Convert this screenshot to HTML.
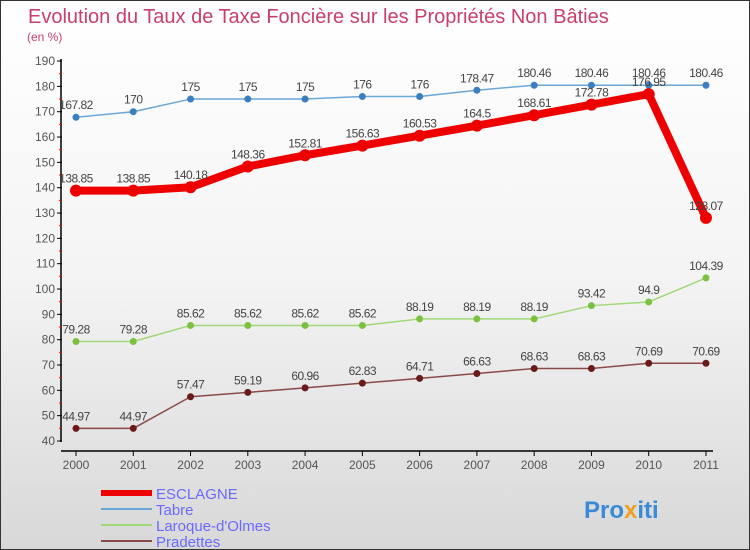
<!DOCTYPE html>
<html><head><meta charset="utf-8"><style>
body{margin:0}
#c{width:748px;height:548px;border:1px solid #333;background:linear-gradient(#fff 0%,#f4f4f4 50%,#d8d8d8 100%);position:relative;font-family:"Liberation Sans",sans-serif;overflow:hidden}
</style></head><body>
<div id="c">
<svg id="s" width="748" height="548" xmlns="http://www.w3.org/2000/svg"></svg>
</div>
<script>
const years=[2000,2001,2002,2003,2004,2005,2006,2007,2008,2009,2010,2011];
const esclagne=[138.85,138.85,140.18,148.36,152.81,156.63,160.53,164.5,168.61,172.78,176.95,128.07];
const tabre=[167.82,170,175,175,175,176,176,178.47,180.46,180.46,180.46,180.46];
const laroque=[79.28,79.28,85.62,85.62,85.62,85.62,88.19,88.19,88.19,93.42,94.9,104.39];
const pradettes=[44.97,44.97,57.47,59.19,60.96,62.83,64.71,66.63,68.63,68.63,70.69,70.69];
const yTicks=[40,50,60,70,80,90,100,110,120,130,140,150,160,170,180,190];
const NS="http://www.w3.org/2000/svg";
const s=document.getElementById('s');
function X(i){return 75+i*57.27;}
function Y(v){return 440-(v-40)*2.533;}
function el(t,a,txt){const e=document.createElementNS(NS,t);for(const k in a)e.setAttribute(k,a[k]);if(txt!==undefined)e.textContent=txt;s.appendChild(e);return e;}
let t=el('text',{x:27,y:22,'font-size':20,fill:'#c8406a'},'Evolution du Taux de Taxe Foncière sur les Propriétés Non Bâties');


t=el('text',{x:26,y:40,'font-size':12,fill:'#c8406a'},'(en %)');


let ax=el('line',{x1:60,y1:58,x2:60,y2:441,stroke:'#000','stroke-width':1.5});


ax=el('line',{x1:60,y1:450,x2:712,y2:450,stroke:'#000','stroke-width':1.5});


yTicks.forEach(v=>{
 el('line',{x1:56,y1:Y(v),x2:61,y2:Y(v),stroke:'#000'});
 if(v<190)el('line',{x1:58,y1:Y(v+5),x2:61,y2:Y(v+5),stroke:'red'});
 const l=el('text',{x:54,y:Y(v)+4,'font-size':12,fill:'#555','text-anchor':'end'},v);
 
 
});
years.forEach((y,i)=>{
 el('line',{x1:X(i),y1:450,x2:X(i),y2:455,stroke:'#000'});
 const l=el('text',{x:X(i),y:468,'font-size':12,fill:'#555','text-anchor':'middle'},y);
 
 
});
function series(d,col,w,r,dot,name){
 const p=el('polyline',{points:d.map((v,i)=>X(i)+','+Y(v)).join(' '),fill:'none',stroke:col,'stroke-width':w,'stroke-linejoin':'round'});
 
 
 d.forEach((v,i)=>{
  const c=el('circle',{cx:X(i),cy:Y(v),r:r,fill:dot});
  
  
  const l=el('text',{x:X(i),y:Y(v)-8,'font-size':12,fill:'#444','text-anchor':'middle','letter-spacing':'-0.5'},v);
  
  
 });
}
series(tabre,'#6aa8d8',1.5,3.5,'#3a7fc0','tabre');
series(laroque,'#a0d878',1.5,3.5,'#7cc040','laroque');
series(pradettes,'#8a4a4a',1.5,3.5,'#6a1a1a','pradettes');
series(esclagne,'#ee0000',8,6,'#ee0000','esclagne');
const leg=[['ESCLAGNE','#ee0000',6],['Tabre','#6aa8d8',2],['Laroque-d\'Olmes','#a0d878',2],['Pradettes','#8a4a4a',2]];
leg.forEach((L,i)=>{
 const y=492+i*16;
 const ln=el('line',{x1:100,y1:y,x2:151,y2:y,stroke:L[1],'stroke-width':L[2]});
 
 
 const tx=el('text',{x:155,y:y+6,'font-size':15,fill:'#6a6aff'},L[0]);
 
 
});
const lg=el('text',{x:583,y:517,'font-size':24,'font-weight':'bold',fill:'#3a8ad8'});


lg.innerHTML='<tspan>Pro</tspan><tspan fill="#f0a020">x</tspan><tspan>iti</tspan>';
</script>
</body></html>
